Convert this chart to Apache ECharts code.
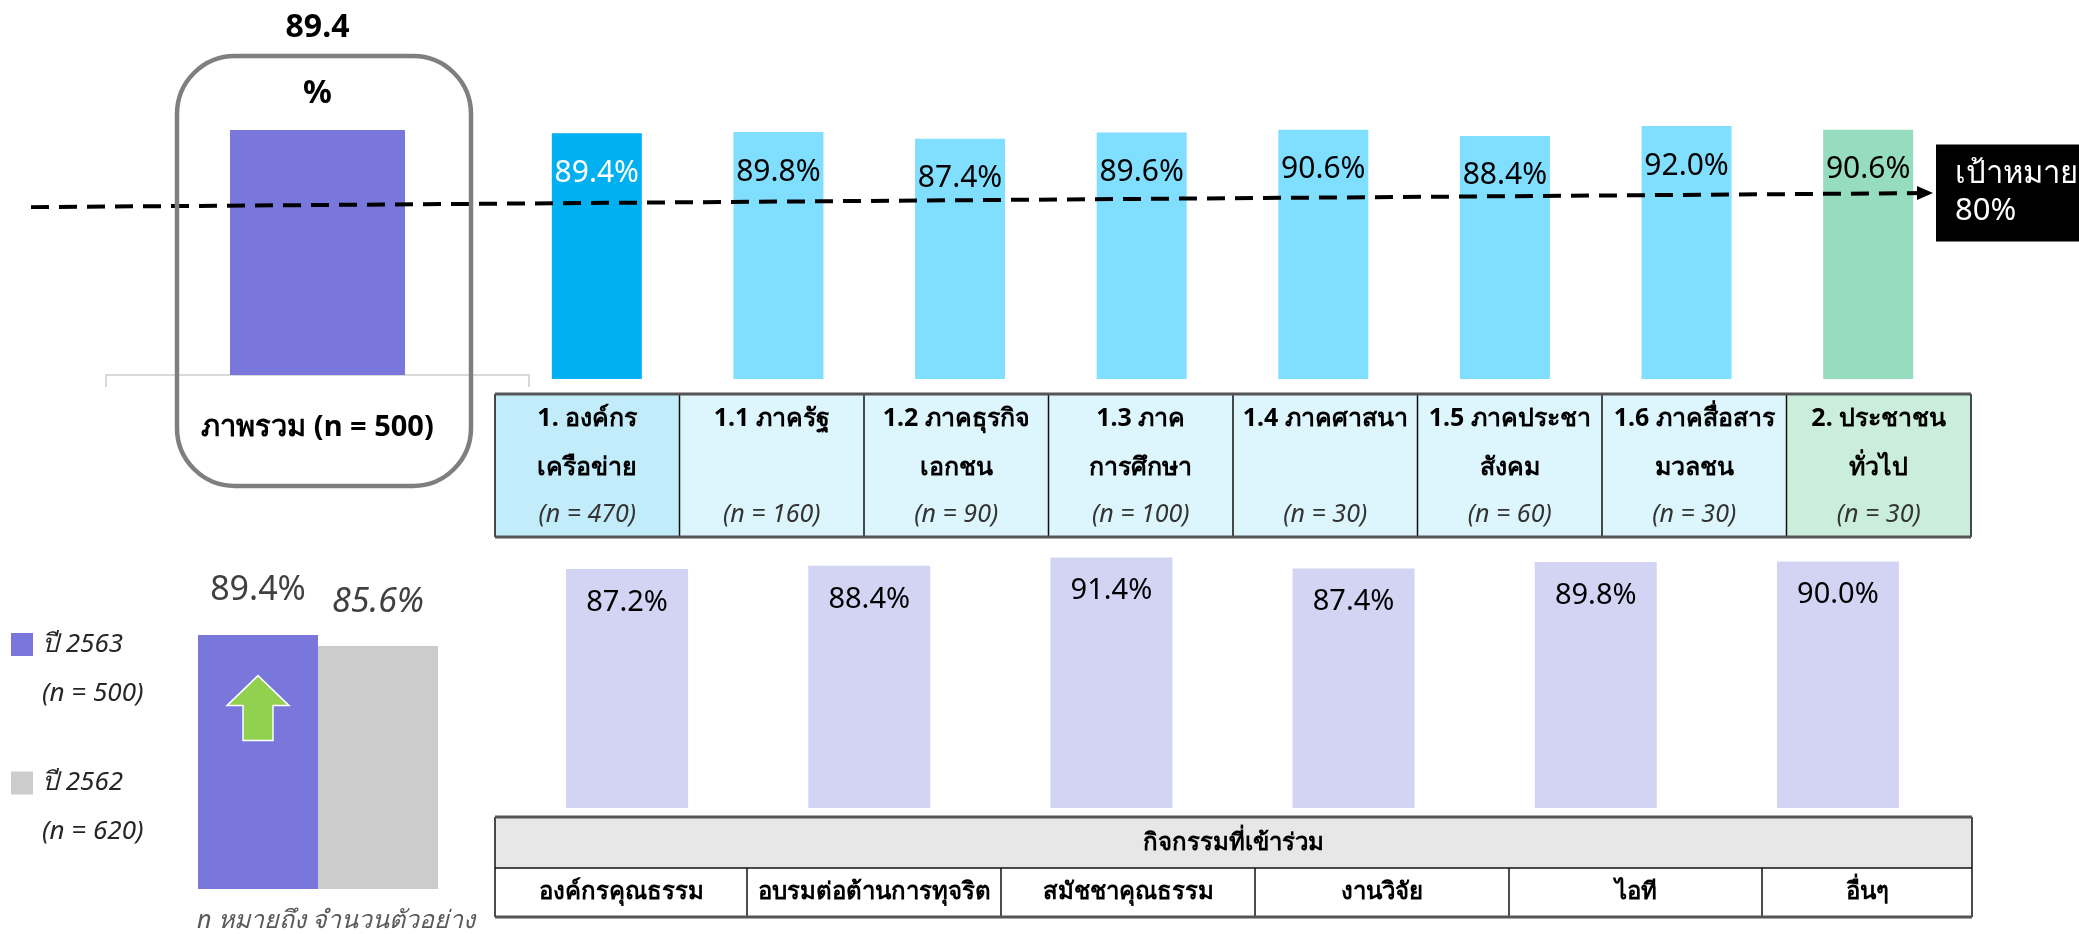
<!DOCTYPE html>
<html><head><meta charset="utf-8">
<script src="https://cdn.jsdelivr.net/npm/echarts@6/dist/echarts.min.js"></script>
<style>html,body{margin:0;padding:0;background:#fff;overflow:hidden}#c{width:2079px;height:934px}</style>
</head><body><div id="c"></div>
<script>
// ---------------- DATA ----------------
const overallCategory = ['ภาพรวม (n = 500)'];
const overallValues = [89.4];
const groupCategories = ['1. องค์กร\nเครือข่าย', '1.1 ภาครัฐ', '1.2 ภาคธุรกิจ\nเอกชน', '1.3 ภาค\nการศึกษา', '1.4 ภาคศาสนา', '1.5 ภาคประชา\nสังคม', '1.6 ภาคสื่อสาร\nมวลชน', '2. ประชาชน\nทั่วไป'];
const groupSamples = ['(n = 470)', '(n = 160)', '(n = 90)', '(n = 100)', '(n = 30)', '(n = 60)', '(n = 30)', '(n = 30)'];
const groupValues = [89.4, 89.8, 87.4, 89.6, 90.6, 88.4, 92.0, 90.6];
const yearNames = ['ปี 2563', 'ปี 2562'];
const yearSamples = ['(n = 500)', '(n = 620)'];
const yearValues = [89.4, 85.6];
const activityHeader = 'กิจกรรมที่เข้าร่วม';
const activityCategories = ['องค์กรคุณธรรม', 'อบรมต่อต้านการทุจริต', 'สมัชชาคุณธรรม', 'งานวิจัย', 'ไอที', 'อื่นๆ'];
const activityValues = [87.2, 88.4, 91.4, 87.4, 89.8, 90.0];
const targetText = 'เป้าหมาย\n80%';
const targetLineValues = [62.5, 67.6];   // decorative sloped target arrow (start, end) in chart units
const footnote = 'n หมายถึง จำนวนตัวอย่าง';

// ---------------- STYLE / LAYOUT ----------------
const FONT = "'Noto Sans', 'DejaVu Sans', sans-serif";
const groupColor = i => i === 0 ? '#00B0F0' : (i === groupValues.length - 1 ? '#96DCBE' : '#80DEFF');
const cellColor = i => i === 0 ? '#C3ECFB' : (i === groupCategories.length - 1 ? '#CBEEDC' : '#DDF5FD');
const topTable = { left: 495, top: 394, bottom: 537, cellW: 184.5 };
const botTable = { top: 817, mid: 868, bottom: 917, edges: [495, 747, 1001, 1255, 1509, 1762, 1972] };

const graphics = [];
// rounded frame around overall bar
graphics.push({ type: 'rect', z: 10, shape: { x: 177, y: 56, width: 294, height: 430, r: 58 },
  style: { fill: 'none', stroke: '#7F7F7F', lineWidth: 4.5 } });

// top table
groupCategories.forEach((cat, i) => {
  const x0 = topTable.left + i * topTable.cellW;
  graphics.push({ type: 'rect', z: 1, shape: { x: x0, y: topTable.top, width: topTable.cellW, height: topTable.bottom - topTable.top },
    style: { fill: cellColor(i) } });
  graphics.push({ type: 'text', z: 5, x: x0 + topTable.cellW / 2, y: 394,
    style: { text: cat, fill: '#000', fontFamily: FONT, fontSize: 25, fontWeight: 'bold', align: 'center', verticalAlign: 'top', lineHeight: 49 } });
  graphics.push({ type: 'text', z: 5, x: x0 + topTable.cellW / 2, y: 515,
    style: { text: groupSamples[i], fill: '#333', fontFamily: FONT, fontSize: 25, fontStyle: 'italic', align: 'center', verticalAlign: 'middle' } });
});
for (let i = 0; i <= groupCategories.length; i++) {
  const x = topTable.left + i * topTable.cellW;
  graphics.push({ type: 'line', z: 6, shape: { x1: x, y1: topTable.top, x2: x, y2: topTable.bottom }, style: { stroke: '#111', lineWidth: 1.5 } });
}
const tableRight = topTable.left + groupCategories.length * topTable.cellW;
graphics.push({ type: 'line', z: 7, shape: { x1: topTable.left, y1: topTable.top, x2: tableRight, y2: topTable.top }, style: { stroke: '#555', lineWidth: 3 } });
graphics.push({ type: 'line', z: 7, shape: { x1: topTable.left, y1: topTable.bottom, x2: tableRight, y2: topTable.bottom }, style: { stroke: '#555', lineWidth: 3 } });

// bottom table
const bl = botTable.edges[0], br = botTable.edges[botTable.edges.length - 1];
graphics.push({ type: 'rect', z: 1, shape: { x: bl, y: botTable.top, width: br - bl, height: botTable.mid - botTable.top }, style: { fill: '#E7E7E7' } });
graphics.push({ type: 'text', z: 5, x: (bl + br) / 2, y: (botTable.top + botTable.mid) / 2 + 1,
  style: { text: activityHeader, fill: '#000', fontFamily: FONT, fontSize: 24, fontWeight: 'bold', align: 'center', verticalAlign: 'middle' } });
activityCategories.forEach((cat, i) => {
  const x0 = botTable.edges[i], x1 = botTable.edges[i + 1];
  graphics.push({ type: 'text', z: 5, x: (x0 + x1) / 2, y: (botTable.mid + botTable.bottom) / 2,
    style: { text: cat, fill: '#000', fontFamily: FONT, fontSize: 24, fontWeight: 'bold', align: 'center', verticalAlign: 'middle' } });
});
botTable.edges.forEach((x, i) => {
  const full = i === 0 || i === botTable.edges.length - 1;
  graphics.push({ type: 'line', z: 6, shape: { x1: x, y1: full ? botTable.top : botTable.mid, x2: x, y2: botTable.bottom }, style: { stroke: '#111', lineWidth: 1.5 } });
});
graphics.push({ type: 'line', z: 7, shape: { x1: bl, y1: botTable.top, x2: br, y2: botTable.top }, style: { stroke: '#555', lineWidth: 3 } });
graphics.push({ type: 'line', z: 7, shape: { x1: bl, y1: botTable.mid, x2: br, y2: botTable.mid }, style: { stroke: '#111', lineWidth: 1.5 } });
graphics.push({ type: 'line', z: 7, shape: { x1: bl, y1: botTable.bottom, x2: br, y2: botTable.bottom }, style: { stroke: '#555', lineWidth: 3 } });

// footnote
graphics.push({ type: 'text', z: 5, x: 197, y: 921,
  style: { text: footnote, fill: '#595959', fontFamily: FONT, fontSize: 25, fontStyle: 'italic', align: 'left', verticalAlign: 'middle' } });

// ---------------- CHART ----------------
const hiddenCat = (gi, data) => ({ type: 'category', gridIndex: gi, data, show: false });
const hiddenVal = (gi, min, max) => ({ type: 'value', gridIndex: gi, min, max, show: false });
const pct = p => p.value.toFixed(1) + '%';

const option = {
  backgroundColor: '#fff',
  animation: false,
  textStyle: { fontFamily: FONT },
  grid: [
    { left: 106, width: 423, top: 101, height: 274 },   // 0 overall
    { left: 506, width: 1453, top: 104, height: 275 },  // 1 groups
    { left: 31, width: 1894, top: 104, height: 275 },   // 2 target arrow
    { left: 158, width: 320, top: 605, height: 284 },   // 3 year comparison
    { left: 506, width: 1453, top: 534, height: 274 }   // 4 activities
  ],
  xAxis: [
    { type: 'category', gridIndex: 0, data: overallCategory,
      axisLine: { lineStyle: { color: '#D9D9D9', width: 2 } },
      axisTick: { show: true, length: 12, lineStyle: { color: '#D9D9D9', width: 2 } },
      axisLabel: { margin: 38, fontSize: 29, fontWeight: 'bold', color: '#000', fontFamily: FONT } },
    hiddenCat(1, groupCategories),
    { type: 'value', gridIndex: 2, min: 0, max: 1, show: false },
    hiddenCat(3, ['year']),
    hiddenCat(4, activityCategories)
  ],
  yAxis: [hiddenVal(0, 0, 100), hiddenVal(1, 0, 100), hiddenVal(2, 0, 100), hiddenVal(3, 0, 100), hiddenVal(4, 0, 100)],
  legend: {
    orient: 'vertical', left: 11, top: 571, padding: 0, itemGap: -8.5, itemWidth: 22, itemHeight: 23,
    selectedMode: false, icon: 'rect',
    data: yearNames,
    formatter: name => ' \n' + name + '\n' + yearSamples[yearNames.indexOf(name)],
    textStyle: { fontFamily: FONT, fontSize: 26, fontStyle: 'italic', color: '#262626', lineHeight: 49, padding: [0, 0, 0, 4] }
  },
  series: [
    { type: 'bar', xAxisIndex: 0, yAxisIndex: 0, data: overallValues, barWidth: 175,
      itemStyle: { color: '#7977DB' },
      label: { show: true, position: 'top', distance: 3, formatter: '{c}\n%', fontSize: 32, fontWeight: 'bold', color: '#000', lineHeight: 66, fontFamily: FONT } },
    { type: 'bar', xAxisIndex: 1, yAxisIndex: 1, barWidth: 90,
      data: groupValues.map((v, i) => ({ value: v, itemStyle: { color: groupColor(i) },
        label: { color: i === 0 ? '#fff' : '#000' } })),
      label: { show: true, position: 'insideTop', distance: 25, formatter: pct, fontSize: 30, fontFamily: FONT } },
    { name: yearNames[0], type: 'bar', xAxisIndex: 3, yAxisIndex: 3, barWidth: 120, barGap: 0,
      data: [yearValues[0]], itemStyle: { color: '#7977DB' },
      label: { show: true, position: 'top', distance: 28, formatter: pct, fontSize: 34, color: '#404040', fontFamily: FONT },
      markPoint: { silent: true, symbol: 'path://M31,0 L62,30 L46,30 L46,65 L16,65 L16,30 L0,30 Z', symbolSize: [62, 65], symbolKeepAspect: false,
        symbolOffset: [0, 73], itemStyle: { color: '#92D050', borderColor: '#fff', borderWidth: 1.5 }, label: { show: false },
        data: [{ coord: [0, yearValues[0]] }] } },
    { name: yearNames[1], type: 'bar', xAxisIndex: 3, yAxisIndex: 3, barWidth: 120, barGap: 0,
      data: [yearValues[1]], itemStyle: { color: '#CCCCCC' },
      label: { show: true, position: 'top', distance: 27, formatter: pct, fontSize: 34, fontStyle: 'italic', color: '#404040', fontFamily: FONT } },
    { type: 'bar', xAxisIndex: 4, yAxisIndex: 4, barWidth: 122, data: activityValues, itemStyle: { color: '#D3D3F3' },
      label: { show: true, position: 'insideTop', distance: 19, formatter: pct, fontSize: 29, color: '#000', fontFamily: FONT } },
    { type: 'line', xAxisIndex: 2, yAxisIndex: 2, z: 5, symbol: 'none',
      lineStyle: { color: '#000', width: 4, type: [18, 10] },
      data: [
        { value: [0, targetLineValues[0]] },
        { value: [1, targetLineValues[1]], symbol: 'triangle', symbolSize: [14, 16], symbolRotate: -90, itemStyle: { color: '#000' } }
      ],
      endLabel: { show: true, formatter: targetText, distance: 11, color: '#fff', backgroundColor: '#000',
        fontSize: 31, lineHeight: 37, fontFamily: FONT, padding: [12, 80, 11, 19], align: 'left' } }
  ],
  graphic: graphics
};
const chart = echarts.init(document.getElementById('c'));
chart.setOption(option);
</script></body></html>
